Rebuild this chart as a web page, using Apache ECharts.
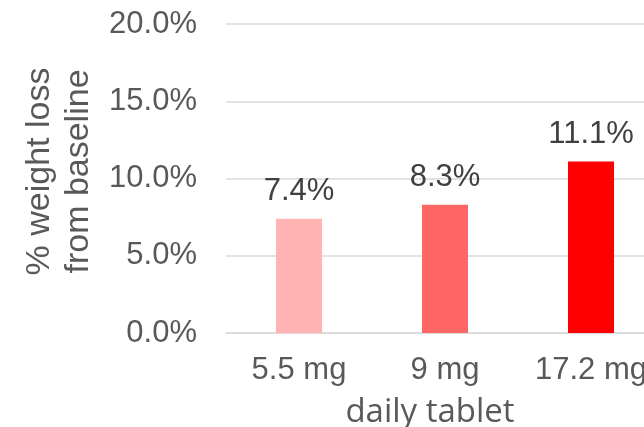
<!DOCTYPE html>
<html>
<head>
<meta charset="utf-8">
<script src="https://cdn.jsdelivr.net/npm/echarts@6/dist/echarts.min.js"></script>
<style>
  html, body { margin: 0; padding: 0; background: #fff; }
  #chart { width: 644px; height: 427px; }
</style>
</head>
<body>
<div id="chart"></div>
<script>
// doses and mean % weight loss
const doses = ['5.5 mg', '9 mg', '17.2 mg']
const weightLoss = [7.4, 8.3, 11.1]
const barColors = ['#FFB3B3', '#FF6666', '#FF0000']
const yTicks = { min: 0, max: 20, step: 5 }

const chart = echarts.init(document.getElementById('chart'))
const numFont = '"Liberation Sans", Arial, sans-serif'

chart.setOption({
  animation: false,
  grid: { left: 226, right: -20, top: 24, bottom: 94, outerBoundsMode: 'none' },
  xAxis: {
    type: 'category',
    data: doses,
    name: 'daily tablet',
    nameLocation: 'middle',
    nameGap: 63,
    nameTextStyle: {
      fontFamily: '"Open Sans", sans-serif',
      fontSize: 33,
      color: '#595959',
      padding: [0, 30, 0, 0]
    },
    axisLine: { lineStyle: { color: '#D9D9D9', width: 1.5 } },
    axisTick: { show: false },
    axisLabel: { interval: 0, margin: 22, fontFamily: numFont, fontSize: 31, color: '#595959' }
  },
  yAxis: {
    type: 'value',
    min: yTicks.min,
    max: yTicks.max,
    interval: yTicks.step,
    name: '% weight loss\nfrom baseline',
    nameLocation: 'middle',
    nameGap: 127,
    nameTextStyle: {
      fontFamily: numFont,
      fontSize: 34,
      lineHeight: 39,
      color: '#595959',
      padding: [0, 0, 0, 14]
    },
    axisLine: { show: false },
    axisTick: { show: false },
    splitLine: { lineStyle: { color: '#D9D9D9', width: 1.5 } },
    axisLabel: {
      margin: 29,
      fontFamily: numFont,
      fontSize: 31,
      color: '#595959',
      formatter: v => v.toFixed(1) + '%'
    }
  },
  series: [{
    type: 'bar',
    barWidth: 46,
    data: weightLoss.map((v, i) => ({ value: v, itemStyle: { color: barColors[i] } })),
    label: {
      show: true,
      position: 'top',
      distance: 12,
      fontFamily: numFont,
      fontSize: 31,
      color: '#404040',
      formatter: p => p.value.toFixed(1) + '%'
    }
  }]
})
</script>
</body>
</html>
